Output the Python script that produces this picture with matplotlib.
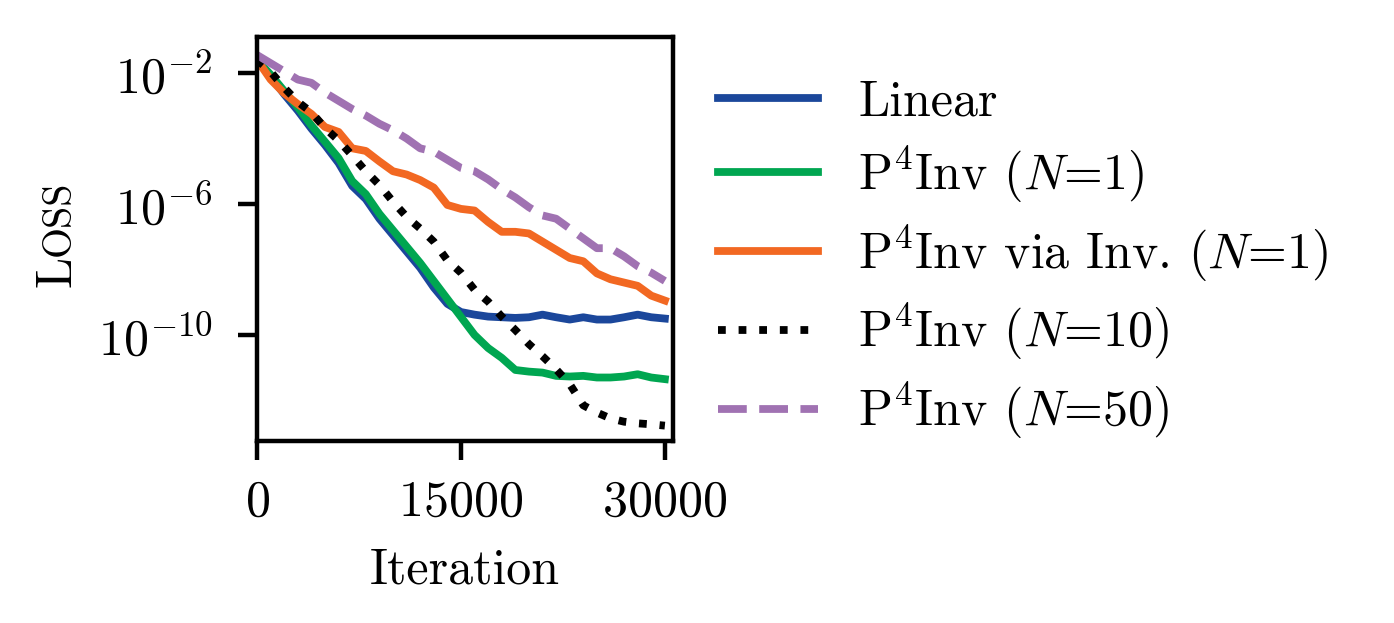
import numpy as np
import matplotlib
matplotlib.use("Agg")
import matplotlib.pyplot as plt
from matplotlib.ticker import NullLocator

plt.rcParams['font.family'] = 'serif'
plt.rcParams['font.serif'] = ['cmr10']
plt.rcParams['mathtext.fontset'] = 'cm'
plt.rcParams['axes.formatter.use_mathtext'] = True
plt.rcParams['font.size'] = 9

# iterations at which the loss was logged
iterations = np.arange(0, 30001, 1000)

# log10 of the loss
linear_log = [-1.6, -2.1, -2.65, -3.15, -3.7, -4.2, -4.75, -5.45, -5.85, -6.45,
              -6.95, -7.45, -7.95, -8.55, -9.05, -9.3, -9.38, -9.44, -9.46, -9.48,
              -9.46, -9.38, -9.46, -9.53, -9.46, -9.53, -9.53, -9.46, -9.38, -9.46, -9.5]
p4inv_n1_log = [-1.6, -2.05, -2.55, -3.05, -3.6, -4.1, -4.6, -5.3, -5.7, -6.3,
                -6.8, -7.3, -7.8, -8.35, -8.9, -9.45, -10.0, -10.4, -10.7, -11.07,
                -11.12, -11.15, -11.25, -11.27, -11.25, -11.3, -11.3, -11.27, -11.2, -11.3, -11.35]
p4inv_via_inv_log = [-1.6, -2.2, -2.62, -2.95, -3.25, -3.65, -3.8, -4.3, -4.38, -4.7,
                     -5.0, -5.1, -5.27, -5.5, -6.03, -6.15, -6.2, -6.55, -6.85, -6.85,
                     -6.9, -7.15, -7.4, -7.65, -7.75, -8.12, -8.3, -8.4, -8.5, -8.8, -8.95]
p4inv_n10_log = [-1.6, -1.96, -2.45, -2.88, -3.2, -3.68, -4.06, -4.52, -5.0, -5.42,
                 -5.93, -6.39, -6.75, -7.15, -7.72, -8.1, -8.62, -8.98, -9.44, -9.85,
                 -10.28, -10.65, -11.05, -11.5, -12.15, -12.37, -12.55, -12.65, -12.7, -12.73, -12.77]
p4inv_n50_log = [-1.45, -1.7, -1.95, -2.2, -2.3, -2.6, -2.85, -3.1, -3.3, -3.55,
                 -3.75, -4.0, -4.3, -4.4, -4.65, -4.9, -5.0, -5.25, -5.55, -5.8,
                 -6.1, -6.35, -6.45, -6.75, -7.05, -7.35, -7.35, -7.6, -7.9, -8.1, -8.35]

labels = ['Linear', 'P$^4$Inv ($N$=1)', 'P$^4$Inv via Inv. ($N$=1)',
          'P$^4$Inv ($N$=10)', 'P$^4$Inv ($N$=50)']
colors = ['#1b479b', '#00a651', '#f26822', 'black', '#a072b2']
styles = ['-', '-', '-', ':', '--']
series = [linear_log, p4inv_n1_log, p4inv_via_inv_log, p4inv_n10_log, p4inv_n50_log]

fig = plt.figure(figsize=(3.485, 1.5575), dpi=400)
ax = fig.add_axes([0.1844, 0.2921, 0.4828 - 0.1844, 0.9406 - 0.2921])

for vals, lab, c, ls in zip(series, labels, colors, styles):
    ax.plot(iterations, 10.0 ** np.array(vals), color=c, ls=ls, lw=1.4, label=lab)

ax.set_yscale('log')
ax.set_xlim(0, 30600)
ax.set_ylim(10 ** -13.24, 10 ** -0.9)
ax.set_xticks([0, 15000, 30000])
ax.set_yticks([1e-2, 1e-6, 1e-10])
ax.yaxis.set_minor_locator(NullLocator())
ax.tick_params(axis='y', pad=4.5)
ax.set_xlabel('Iteration')

# small caps y label
fig.text(70 / 1394, 1 - 287 / 623, 'L', rotation=90, rotation_mode='anchor',
         ha='left', va='baseline', fontsize=9)
fig.text(70 / 1394, 1 - 256 / 623, 'OSS', rotation=90, rotation_mode='anchor',
         ha='left', va='baseline', fontsize=7.2)

ax.legend(loc='center left', bbox_to_anchor=(1.0, 0.4465), frameon=False,
          labelspacing=0.37)

fig.savefig('out.png', dpi=400)
